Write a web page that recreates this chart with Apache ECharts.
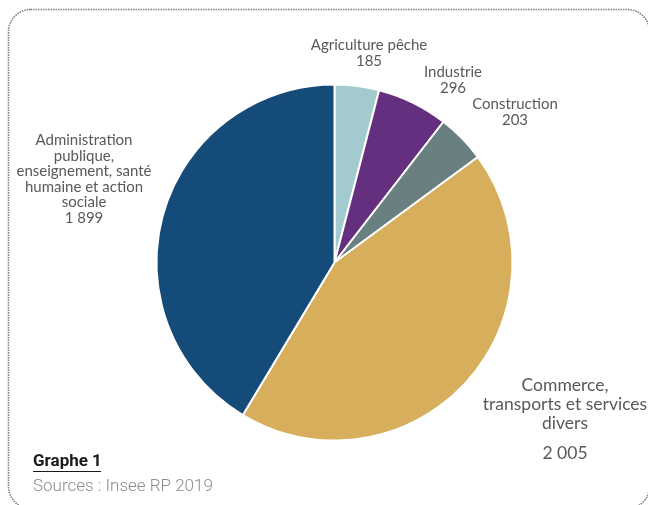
<!DOCTYPE html>
<html><head><meta charset="utf-8">
<script src="https://cdn.jsdelivr.net/npm/echarts@6/dist/echarts.min.js"></script>
<style>html,body{margin:0;padding:0;background:#fff}#c{width:648px;height:505px}</style>
</head><body><div id="c"></div>
<script>
const categories = ["Agriculture pêche", "Industrie", "Construction", "Commerce,\ntransports et services\ndivers", "Administration\npublique,\nenseignement, santé\nhumaine et action\nsociale"];
const values = [185, 296, 203, 2005, 1899];
const colors = ["#A3CBCF", "#642F7F", "#6A8080", "#D6AE5C", "#154B78"];
const labelPos = [[369, 53], [453, 80], [515, 112], [565, 419], [84, 179]];

function fmt(v){ return String(v).replace(/\B(?=(\d{3})+(?!\d))/g, '\u00a0'); }

const chart = echarts.init(document.getElementById('c'), null, {renderer:'canvas'});
chart.setOption({
  animation: false,
  graphic: [
    {type:'rect', shape:{x:8.5, y:9.5, width:641, height:499, r:22}, style:{fill:'none', stroke:'#7f7f7f', lineWidth:1.6, lineDash:[1.5,1]}},
    {type:'text', x:33, y:462, style:{text:'Graphe 1', fill:'#1a1a1a', font:'bold 17px Roboto', verticalAlign:'middle'}},
    {type:'line', shape:{x1:33, y1:471.5, x2:101, y2:471.5}, style:{stroke:'#1a1a1a', lineWidth:1.2}},
    {type:'text', x:33, y:487, style:{text:'Sources : Insee RP 2019', fill:'#8c8c8c', font:'300 17px Roboto', verticalAlign:'middle'}}
  ],
  series: [{
    type: 'pie',
    center: [334.5, 262.5],
    radius: [0, 178],
    startAngle: 90,
    clockwise: true,
    itemStyle: {borderColor:'#fff', borderWidth:2},
    labelLine: {show:false},
    label: {
      show: true,
      position: 'outside',
      color: '#595959',
      fontFamily: 'Lato',
      fontSize: 15,
      lineHeight: 16,
      align: 'center',
      width: 300,
      overflow: 'none',
      formatter: p => p.dataIndex === 3 ? p.name + '\n{g|}\n' + fmt(p.value) : p.name + '\n' + fmt(p.value),
      rich: {g: {height: 11, lineHeight: 11, fontSize: 8}}
    },
    labelLayout: p => ({x: labelPos[p.dataIndex][0], y: labelPos[p.dataIndex][1], align:'center', verticalAlign:'middle'}),
    data: categories.map((c,i)=>({name:c, value:values[i], itemStyle:{color:colors[i]},
      label: i===3 ? {fontSize:17.5, lineHeight:19} : (i===4 ? {lineHeight:15.5} : {})}))
  }]
});
</script></body></html>
